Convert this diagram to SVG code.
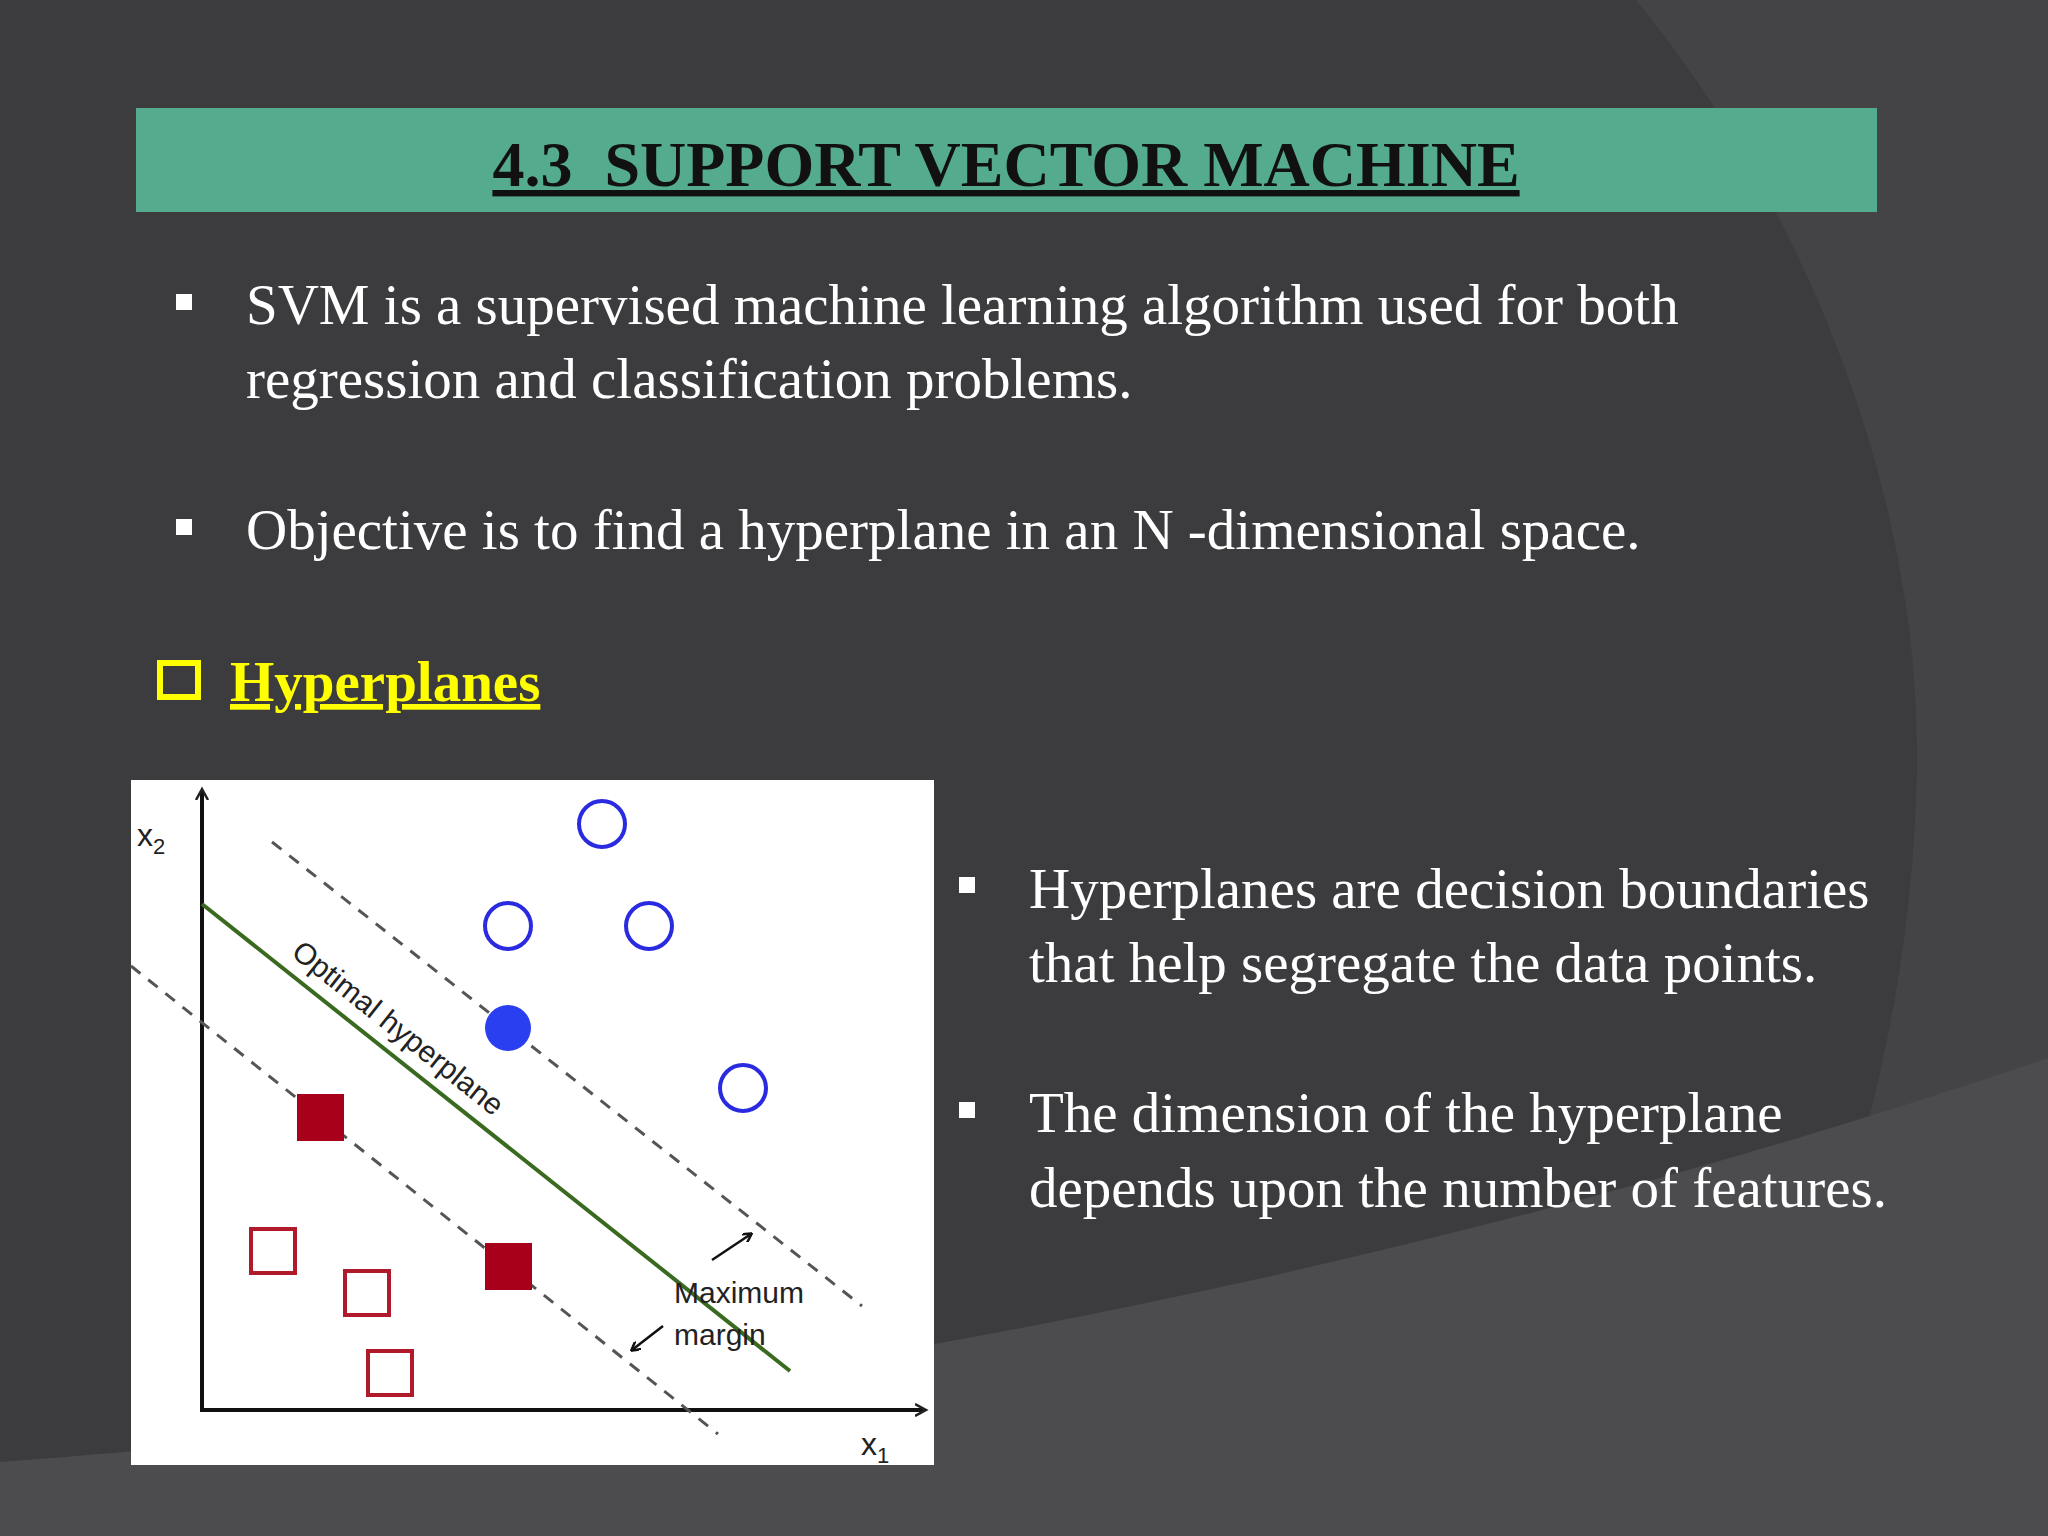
<svg xmlns="http://www.w3.org/2000/svg" width="2048" height="1536" viewBox="0 0 2048 1536">
<style>
.t{font-family:"Liberation Serif","Times New Roman",serif;fill:#fff;font-size:57px}
.s{font-family:"Liberation Sans",Arial,sans-serif;fill:#222}
.b{fill:#fff}
.oc{fill:none;stroke:#2a2ae0;stroke-width:4}
.os{fill:none;stroke:#b01a2a;stroke-width:4}
.fs{fill:#a8001a}
.d{stroke:#555;stroke-width:3;stroke-dasharray:12 10;fill:none}
</style>
<defs>
<marker id="ah" markerWidth="10" markerHeight="10" refX="8" refY="5" orient="auto" markerUnits="userSpaceOnUse"><path d="M0,0 L9,5 L0,10" fill="none" stroke="#111" stroke-width="2.5"/></marker>
<marker id="am" markerWidth="14" markerHeight="14" refX="10" refY="7" orient="auto" markerUnits="userSpaceOnUse"><path d="M0,1 L11,7 L0,13" fill="none" stroke="#222" stroke-width="2.5"/></marker>
</defs>
<rect width="2048" height="1536" fill="#3c3c3e"/>
<path d="M1636,0 C1800,200 1930,500 1916,800 C1905,1100 1800,1350 1710,1536 L2048,1536 L2048,0Z" fill="#444446"/>
<path d="M0,1462 Q1100,1380 2048,1058 L2048,1536 L0,1536Z" fill="#4c4b4e"/>
<g id="title">
<rect x="136" y="108" width="1741" height="104" fill="#55ab8e"/>
<text x="1006" y="186" text-anchor="middle" xml:space="preserve" style="font-family:'Liberation Serif',serif;font-weight:bold;font-size:64px;fill:#111;text-decoration:underline">4.3  SUPPORT VECTOR MACHINE</text>
</g>
<g id="bullets">
<rect x="176" y="294" width="16" height="16" class="b"/>
<text class="t" x="246" y="324">SVM is a supervised machine learning algorithm used for both</text>
<text class="t" x="246" y="398">regression and classification problems.</text>
<rect x="176" y="519" width="16" height="16" class="b"/>
<text class="t" x="246" y="549">Objective is to find a hyperplane in an N -dimensional space.</text>
</g>
<g id="hyperplanes">
<rect x="160" y="663" width="38" height="34" fill="none" stroke="#ffff00" stroke-width="6"/>
<text x="230" y="701" style="font-family:'Liberation Serif',serif;font-weight:bold;font-size:57px;fill:#ffff00;text-decoration:underline">Hyperplanes</text>
</g>
<g id="chart">
<rect x="131" y="780" width="803" height="685" fill="#fff"/>
<line x1="202" y1="1410" x2="202" y2="790" stroke="#111" stroke-width="4" marker-end="url(#am)"/>
<line x1="200" y1="1410" x2="925" y2="1410" stroke="#111" stroke-width="4" marker-end="url(#am)"/>
<text class="s" x="137" y="846" style="font-size:32px">x<tspan font-size="22" dy="8">2</tspan></text>
<text class="s" x="861" y="1455" style="font-size:32px">x<tspan font-size="22" dy="8">1</tspan></text>
<line x1="272" y1="842" x2="862" y2="1306" class="d"/>
<line x1="131" y1="966" x2="718" y2="1434" class="d"/>
<line x1="202" y1="904" x2="790" y2="1371" stroke="#3a6a20" stroke-width="4"/>
<text class="s" x="290" y="955" transform="rotate(38.5 290 955)" style="font-size:30px">Optimal hyperplane</text>
<circle cx="602" cy="824" r="23" class="oc"/>
<circle cx="508" cy="926" r="23" class="oc"/>
<circle cx="649" cy="926" r="23" class="oc"/>
<circle cx="743" cy="1088" r="23" class="oc"/>
<circle cx="508" cy="1028" r="23" fill="#2a3ff0"/>
<rect x="297" y="1094" width="47" height="47" class="fs"/>
<rect x="485" y="1243" width="47" height="47" class="fs"/>
<rect x="251" y="1229" width="44" height="44" class="os"/>
<rect x="345" y="1271" width="44" height="44" class="os"/>
<rect x="368" y="1351" width="44" height="44" class="os"/>
<text class="s" x="674" y="1303" style="font-size:30px">Maximum</text>
<text class="s" x="674" y="1345" style="font-size:30px">margin</text>
<line x1="712" y1="1260" x2="751" y2="1234" stroke="#111" stroke-width="2.5" marker-end="url(#ah)"/>
<line x1="663" y1="1326" x2="632" y2="1350" stroke="#111" stroke-width="2.5" marker-end="url(#ah)"/>
</g>
<g id="right">
<rect x="959" y="877" width="16" height="16" class="b"/>
<text class="t" x="1029" y="908">Hyperplanes are decision boundaries</text>
<text class="t" x="1029" y="982">that help segregate the data points.</text>
<rect x="959" y="1102" width="16" height="16" class="b"/>
<text class="t" x="1029" y="1132">The dimension of the hyperplane</text>
<text class="t" x="1029" y="1207">depends upon the number of features.</text>
</g>
</svg>
